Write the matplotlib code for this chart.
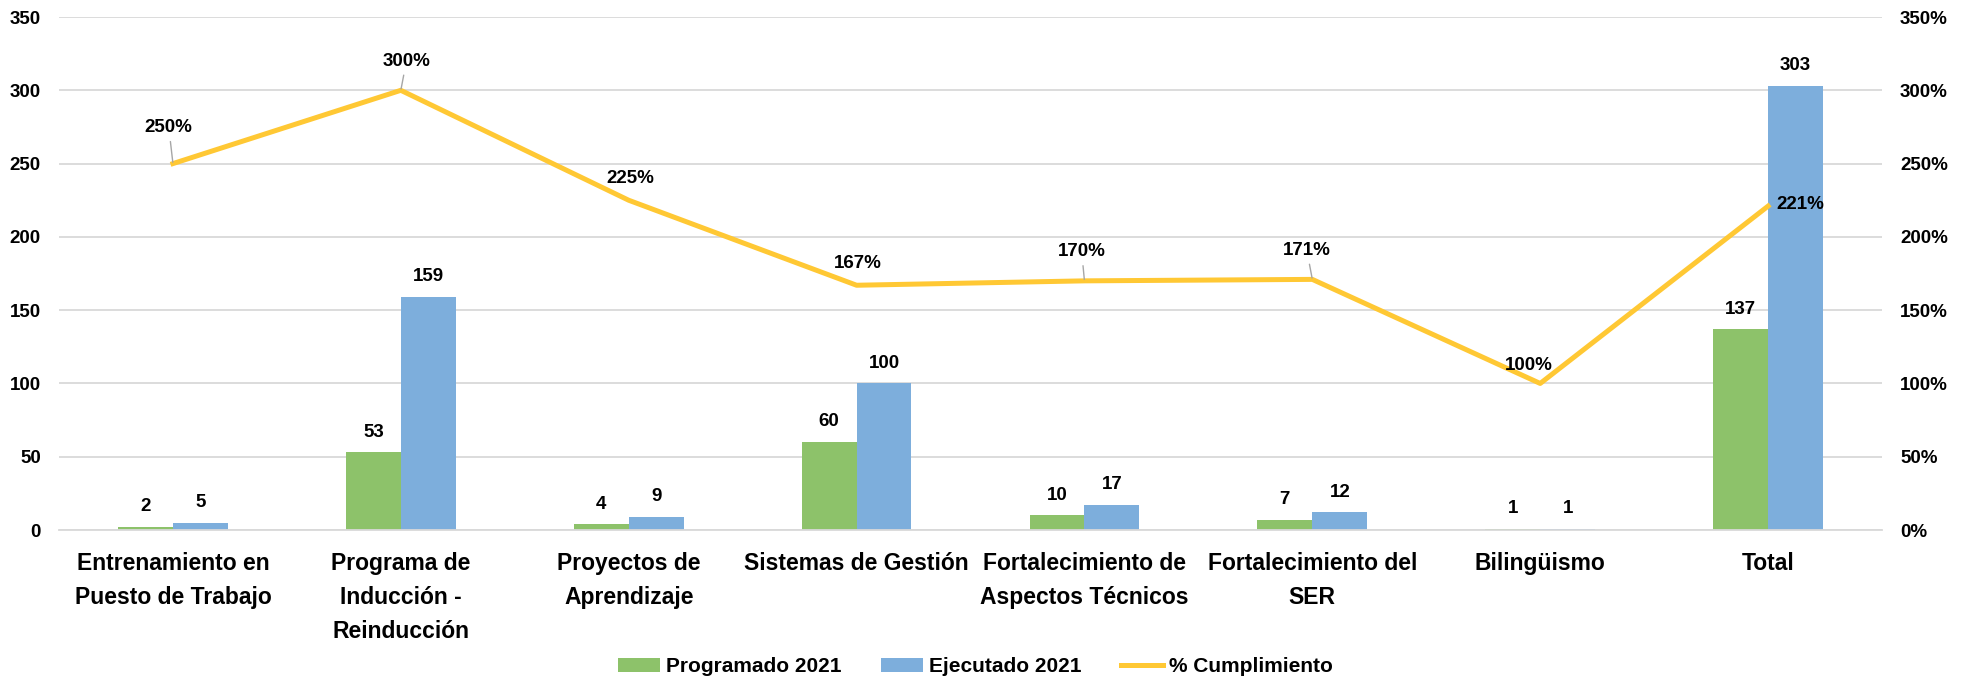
import numpy as np
import matplotlib
matplotlib.use("Agg")
import matplotlib.pyplot as plt

plt.rcParams['font.family'] = ['Liberation Sans', 'DejaVu Sans']
plt.rcParams['font.weight'] = 'bold'

categories = ["Entrenamiento en\nPuesto de Trabajo", "Programa de\nInducción -\nReinducción",
              "Proyectos de\nAprendizaje", "Sistemas de Gestión",
              "Fortalecimiento de\nAspectos Técnicos", "Fortalecimiento del\nSER",
              "Bilingüismo", "Total"]
programado = [2, 53, 4, 60, 10, 7, 1, 137]
ejecutado = [5, 159, 9, 100, 17, 12, 1, 303]
cumplimiento = [250, 300, 225, 167, 170, 171, 100, 221]

green = '#8DC26A'
blue = '#7DAEDC'
gold = '#FFC834'

fig, ax = plt.subplots(figsize=(19.67, 6.81), dpi=100)
fig.subplots_adjust(left=0.030, right=0.9568, top=0.975, bottom=0.2217)

x = np.arange(len(categories))
w = 0.241
b1 = ax.bar(x - w/2, programado, w, color=green, label='Programado 2021', zorder=2)
b2 = ax.bar(x + w/2, ejecutado, w, color=blue, label='Ejecutado 2021', zorder=2)

for xs, vals in ((x - w/2, programado), (x + w/2, ejecutado)):
    for xi, v in zip(xs, vals):
        ax.annotate(str(v), (xi, v), xytext=(0, 14.5), textcoords='offset points',
                    ha='center', va='center', fontsize=13.5, fontweight='bold')

ax.set_ylim(0, 350)
ax.set_yticks(np.arange(0, 351, 50))
ax.set_xlim(-0.5, 7.5)
ax.set_xticks(x)
ax.set_xticklabels(categories, fontsize=16.5, fontweight='bold', linespacing=1.6)
ax.tick_params(axis='x', length=0, pad=16)
ax.tick_params(axis='y', length=0, labelsize=13.5, pad=13)
ax.grid(axis='y', color='#D9D9D9', linewidth=1.3, zorder=0)
for s in ['top', 'right', 'left']:
    ax.spines[s].set_visible(False)
ax.spines['bottom'].set_color('#D9D9D9')
ax.spines['bottom'].set_linewidth(1.3)

ax2 = ax.twinx()
ax2.set_ylim(0, 350)
ax2.set_yticks(np.arange(0, 351, 50))
ax2.set_yticklabels([f"{t}%" for t in range(0, 351, 50)])
ax2.tick_params(axis='y', length=0, labelsize=13.5, pad=13)
for s in ax2.spines.values():
    s.set_visible(False)
line, = ax2.plot(x, cumplimiento, color=gold, linewidth=3.6, label='% Cumplimiento', zorder=3)

offsets = [(-3, 26), (4, 21), (1, 16), (1, 16), (-2, 21), (-4, 21), (-8, 13), (23, 1)]
leaders = [True, True, False, False, True, True, False, False]
for xi, v, off, ld in zip(x, cumplimiento, offsets, leaders):
    ax2.annotate(f"{v}%", (xi, v), xytext=off, textcoords='offset points',
                 ha='center', va='center', fontsize=13.5, fontweight='bold',
                 arrowprops=dict(arrowstyle='-', color='#A6A6A6', lw=1,
                                 shrinkA=2, shrinkB=1) if ld else None)

handles = [b1, b2, line]
fig.legend(handles, [h.get_label() for h in handles], loc='center',
           ncol=3, frameon=False, fontsize=15, bbox_to_anchor=(0.496, 0.021),
           handlelength=2.0, handleheight=0.7, columnspacing=1.9, handletextpad=0.3)

fig.savefig('out.png', dpi=100)
